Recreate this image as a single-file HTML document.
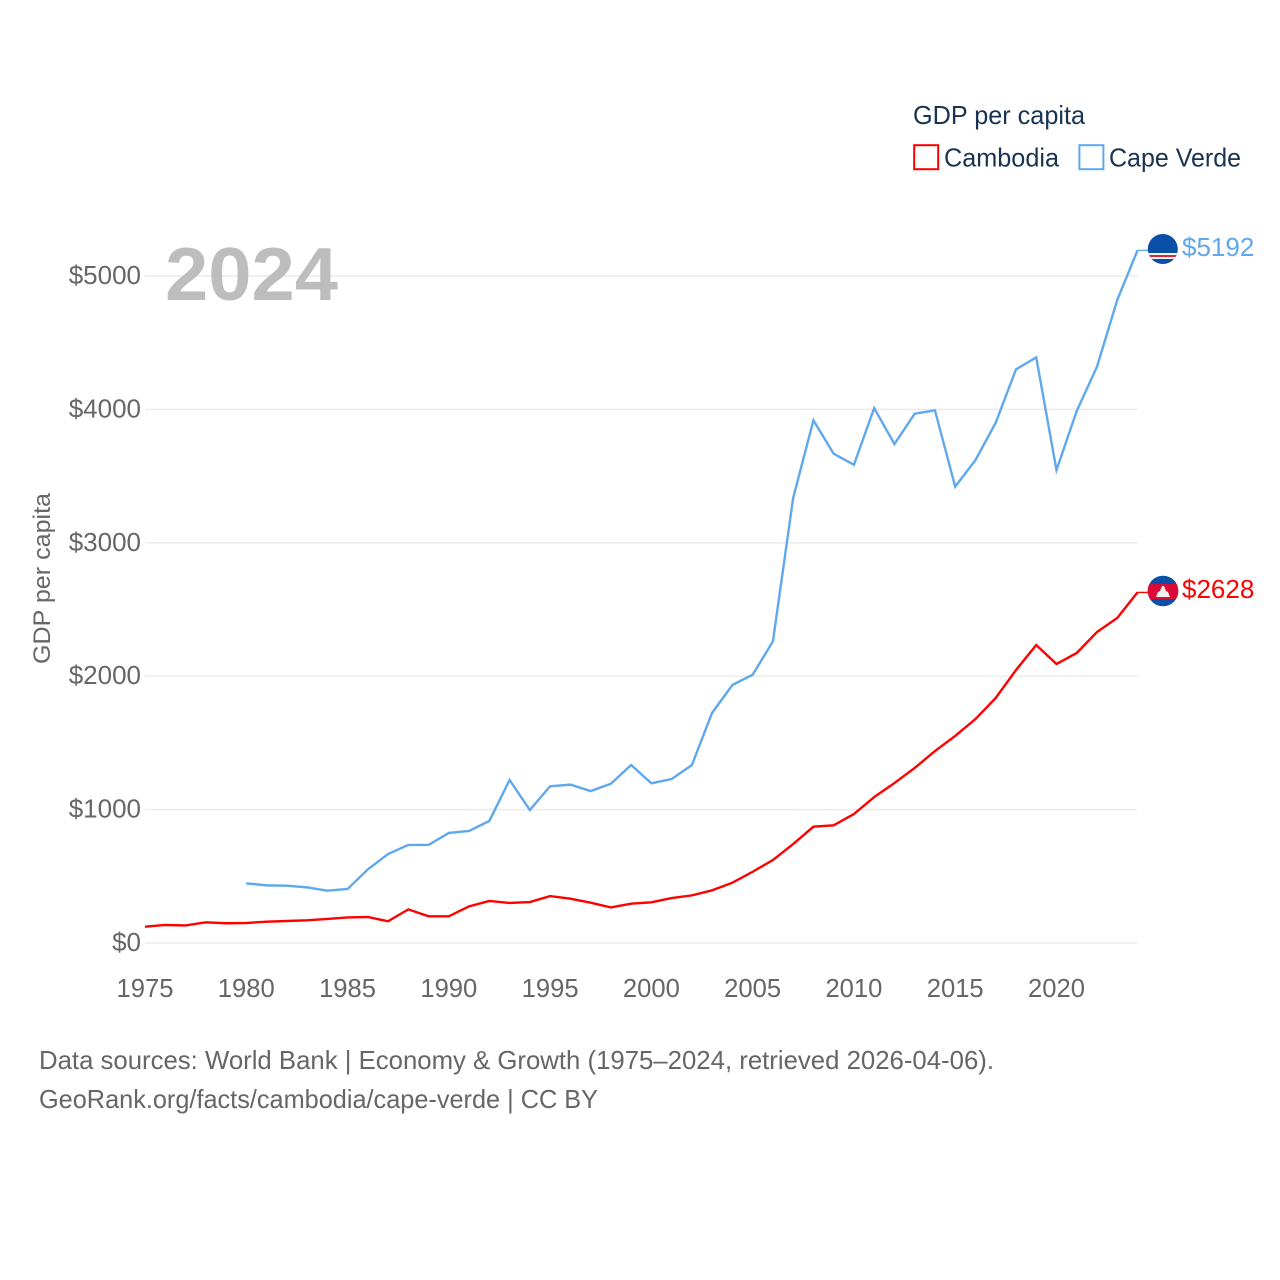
<!DOCTYPE html>
<html lang="en">
<head>
<meta charset="utf-8">
<title>GDP per capita: Cambodia and Cape Verde</title>
<style>
html,body{margin:0;padding:0;background:#fff}
svg{display:block}
text{font-family:"Liberation Sans",sans-serif}
</style>
</head>
<body>
<svg id="chart" xmlns="http://www.w3.org/2000/svg" width="1280" height="1280" viewBox="0 0 1280 1280">
  <rect width="1280" height="1280" fill="#fff"/>
  <g id="grid"></g>
  <g id="yticks"></g>
  <g id="xticks"></g>
  <text x="165" y="300" font-size="75" font-weight="700" fill="#bdbdbd" textLength="173" lengthAdjust="spacingAndGlyphs">2024</text>
  <text transform="translate(50,578.5) rotate(-90)" text-anchor="middle" font-size="24" fill="#666" textLength="171" lengthAdjust="spacingAndGlyphs">GDP per capita</text>
  <g id="series"></g>

  <g>
    <text x="913" y="124" font-size="26" fill="#1a3353" textLength="172" lengthAdjust="spacingAndGlyphs">GDP per capita</text>
    <g>
      <rect x="914.2" y="145.2" width="24" height="24" fill="none" stroke="#ff0000" stroke-width="2"/>
      <text x="944" y="166.5" font-size="26" fill="#1a3353" textLength="115" lengthAdjust="spacingAndGlyphs">Cambodia</text>
    </g>
    <g>
      <rect x="1079.4" y="145.2" width="24" height="24" fill="none" stroke="#5fa8ee" stroke-width="2"/>
      <text x="1109" y="166.5" font-size="26" fill="#1a3353" textLength="132" lengthAdjust="spacingAndGlyphs">Cape Verde</text>
    </g>
  </g>

  <defs>
    <clipPath id="cv-clip"><circle cx="1162.8" cy="249" r="15"/></clipPath>
    <clipPath id="kh-clip"><circle cx="1163" cy="591" r="15.3"/></clipPath>
  </defs>
  <g clip-path="url(#cv-clip)">
    <rect x="1147" y="233" width="32" height="32" fill="#0a4fa8"/>
    <rect x="1147" y="253" width="32" height="6" fill="#f3f3f3"/>
    <rect x="1147" y="255" width="32" height="2" fill="#d9263a"/>
  </g>
  <g clip-path="url(#kh-clip)">
    <rect x="1147" y="575" width="32" height="32" fill="#0a4fa8"/>
    <rect x="1147" y="584" width="32" height="15" fill="#dc0a36"/>
    <polygon points="1156,597 1158,592 1160,591 1162,586 1164,586 1166,591 1168,592 1170,597" fill="#f0eeee"/>
  </g>
  <text id="label-cv" x="1182" y="256" font-size="26" fill="#5fa8ee">$5192</text>
  <text id="label-kh" x="1182" y="598" font-size="26" fill="#ff0000">$2628</text>

  <g>
    <text x="39" y="1069" font-size="25.6" fill="#666" textLength="955" lengthAdjust="spacingAndGlyphs">Data sources: World Bank | Economy &amp; Growth (1975–2024, retrieved 2026-04-06).</text>
    <text x="39" y="1108" font-size="25.6" fill="#666" textLength="559" lengthAdjust="spacingAndGlyphs">GeoRank.org/facts/cambodia/cape-verde | CC BY</text>
  </g>
</svg>
<script>
const years = [1975,1976,1977,1978,1979,1980,1981,1982,1983,1984,1985,1986,1987,1988,1989,1990,1991,1992,1993,1994,1995,1996,1997,1998,1999,2000,2001,2002,2003,2004,2005,2006,2007,2008,2009,2010,2011,2012,2013,2014,2015,2016,2017,2018,2019,2020,2021,2022,2023,2024];
const cambodia = [122,135,132,155,148,150,160,165,170,180,192,195,163,252,200,200,275,315,300,307,352,332,302,267,295,305,337,357,395,452,534,622,742,872,882,967,1094,1199,1312,1439,1552,1679,1837,2046,2234,2091,2174,2331,2436,2628];
const capeVerde = [null,null,null,null,null,447,432,430,417,392,405,552,667,735,735,825,840,915,1222,997,1175,1187,1139,1194,1334,1197,1229,1334,1726,1934,2011,2261,3336,3918,3668,3585,4010,3740,3968,3993,3421,3620,3900,4300,4390,3545,3988,4320,4820,5192];
const yTicks = [0,1000,2000,3000,4000,5000];
const xTicks = [1975,1980,1985,1990,1995,2000,2005,2010,2015,2020];

const NS = 'http://www.w3.org/2000/svg';
const xScale = function (v) { return 145 + (v - 1975) * (1137.5 - 145) / 49; };
const yScale = function (v) { return 943 - v * (943 - 276) / 5000; };

const grid = document.getElementById('grid');
const yG = document.getElementById('yticks');
const xG = document.getElementById('xticks');
const seriesG = document.getElementById('series');

yTicks.forEach(function (t) {
  const line = document.createElementNS(NS, 'line');
  
  
  line.setAttribute('x1', xScale(1975));
  line.setAttribute('x2', xScale(2024));
  line.setAttribute('y1', yScale(t));
  line.setAttribute('y2', yScale(t));
  line.setAttribute('stroke', '#ececec');
  line.setAttribute('stroke-width', '1.5');
  grid.appendChild(line);

  const label = document.createElementNS(NS, 'text');
  
  
  label.setAttribute('x', 141);
  label.setAttribute('y', yScale(t) + 8);
  label.setAttribute('text-anchor', 'end');
  label.setAttribute('font-size', '26');
  label.setAttribute('fill', '#666');
  label.textContent = '$' + t;
  yG.appendChild(label);
});

xTicks.forEach(function (t) {
  const label = document.createElementNS(NS, 'text');
  
  
  label.setAttribute('x', xScale(t));
  label.setAttribute('y', 997);
  label.setAttribute('text-anchor', 'middle');
  label.setAttribute('font-size', '25.6');
  label.setAttribute('fill', '#666');
  label.textContent = t;
  xG.appendChild(label);
});

function pathFor(values) {
  let d = '';
  values.forEach(function (v, i) {
    if (v === null) return;
    d += (d ? 'L' : 'M') + xScale(years[i]).toFixed(2) + ' ' + yScale(v).toFixed(2);
  });
  return d;
}

const capeVerdeLine = document.createElementNS(NS, 'path');


capeVerdeLine.setAttribute('d', pathFor(capeVerde));
capeVerdeLine.setAttribute('fill', 'none');
capeVerdeLine.setAttribute('stroke', '#5fa8ee');
capeVerdeLine.setAttribute('stroke-width', '2.4');
seriesG.appendChild(capeVerdeLine);

const cambodiaLine = document.createElementNS(NS, 'path');


cambodiaLine.setAttribute('d', pathFor(cambodia));
cambodiaLine.setAttribute('fill', 'none');
cambodiaLine.setAttribute('stroke', '#ff0000');
cambodiaLine.setAttribute('stroke-width', '2.4');
seriesG.appendChild(cambodiaLine);

const capeVerdeLeader = document.createElementNS(NS, 'line');


capeVerdeLeader.setAttribute('x1', xScale(2024));
capeVerdeLeader.setAttribute('x2', 1148);
capeVerdeLeader.setAttribute('y1', yScale(capeVerde[capeVerde.length - 1]));
capeVerdeLeader.setAttribute('y2', yScale(capeVerde[capeVerde.length - 1]));
capeVerdeLeader.setAttribute('stroke', '#5fa8ee');
capeVerdeLeader.setAttribute('stroke-width', '1.4');
seriesG.appendChild(capeVerdeLeader);

const cambodiaLeader = document.createElementNS(NS, 'line');


cambodiaLeader.setAttribute('x1', xScale(2024));
cambodiaLeader.setAttribute('x2', 1148);
cambodiaLeader.setAttribute('y1', yScale(cambodia[cambodia.length - 1]));
cambodiaLeader.setAttribute('y2', yScale(cambodia[cambodia.length - 1]));
cambodiaLeader.setAttribute('stroke', '#ff0000');
cambodiaLeader.setAttribute('stroke-width', '1.4');
seriesG.appendChild(cambodiaLeader);

document.getElementById('label-cv').textContent = '$' + capeVerde[capeVerde.length - 1];
document.getElementById('label-kh').textContent = '$' + cambodia[cambodia.length - 1];
</script>
</body>
</html>
